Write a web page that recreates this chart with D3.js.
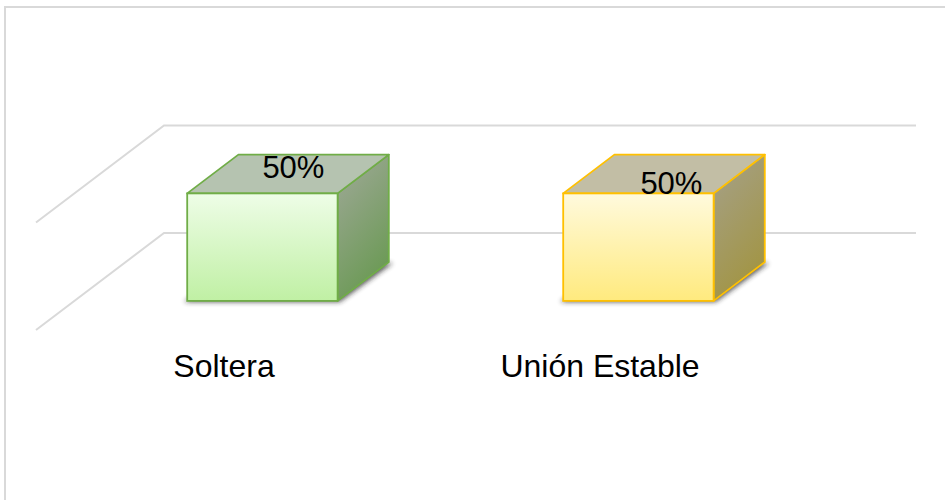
<!DOCTYPE html>
<html>
<head>
<meta charset="utf-8">
<script src="https://cdn.jsdelivr.net/npm/d3@7/dist/d3.min.js"></script>
<style>
  html, body { margin: 0; padding: 0; background: #fff; }
  svg { display: block; }
</style>
</head>
<body>
<svg id="chart" width="945" height="500"></svg>
<script>
// ---- data ----
const categories = ["Soltera", "Unión Estable"];
const values = [0.5, 0.5];
const dataLabels = ["50%", "50%"];
const gridTicks = [0, 0.5];

// ---- styles / layout ----
const frontColors = [["#EEFDE7", "#C0F0A4"], ["#FFFADD", "#FFEA7E"]];
const sideColors  = [["#A1A99A", "#6C9A56"], ["#A5A18B", "#A29545"]];
const topColors   = ["#B5C3B0", "#C2BEA5"];
const strokeColors = ["#70AD47", "#FFC000"];
const labelNudge = [[31, -15], [33, 1]];

const svg = d3.select("#chart");
const font = "'Liberation Sans', Arial, sans-serif";

// chart frame
svg.append("rect").attr("x", 5).attr("y", 7).attr("width", 980).attr("height", 540)
  .attr("fill", "#fff").attr("stroke", "#D9D9D9").attr("stroke-width", 2);

const depthX = 128, depthY = -97;
const x = d3.scaleBand().domain(categories).range([36, 788]).paddingInner(0.6).paddingOuter(0.3);
const y = d3.scaleLinear().domain([0, 0.5]).range([330, 222.5]);

// gridlines (side wall + back wall)
const grid = svg.append("g");
gridTicks.forEach(t => {
  const y0 = y(t);
  grid.append("path")
    .attr("d", `M${x.range()[0]},${y0} L${x.range()[0] + depthX},${y0 + depthY} L${x.range()[1] + depthX},${y0 + depthY}`)
    .attr("fill", "none").attr("stroke", "#D9D9D9").attr("stroke-width", 2);
});

const defs = svg.append("defs");
const blur = defs.append("filter").attr("id", "shadowBlur")
  .attr("x", "-20%").attr("y", "-100%").attr("width", "140%").attr("height", "300%");
blur.append("feGaussianBlur").attr("stdDeviation", 2.5);

categories.forEach((c, i) => {
  const fg = defs.append("linearGradient").attr("id", "front" + i)
    .attr("x1", 0).attr("y1", 0).attr("x2", 0).attr("y2", 1);
  fg.append("stop").attr("offset", "0%").attr("stop-color", frontColors[i][0]);
  fg.append("stop").attr("offset", "100%").attr("stop-color", frontColors[i][1]);
  const sg = defs.append("linearGradient").attr("id", "side" + i)
    .attr("x1", 0).attr("y1", 0).attr("x2", 0.4).attr("y2", 1);
  sg.append("stop").attr("offset", "0%").attr("stop-color", sideColors[i][0]);
  sg.append("stop").attr("offset", "100%").attr("stop-color", sideColors[i][1]);
});

const d0 = 0.3, d1 = 0.7; // bar depth fraction
const bars = svg.append("g");
categories.forEach((c, i) => {
  const x0 = x(c) + d0 * depthX;
  const x1 = x0 + x.bandwidth();
  const yb = y(0) + d0 * depthY;
  const yt = y(values[i]) + d0 * depthY;
  const ddx = (d1 - d0) * depthX, ddy = (d1 - d0) * depthY;
  const g = bars.append("g");
  // shadow
  g.append("path")
    .attr("d", `M${x0 - 3},${yb + 1} L${x1 + 2},${yb + 1} L${x1 + ddx + 4},${yb + ddy + 1} L${x0 + ddx},${yb + ddy + 1} Z`)
    .attr("fill", "#222").attr("opacity", 0.75).attr("filter", "url(#shadowBlur)");
  // right side
  g.append("path")
    .attr("d", `M${x1},${yt} L${x1 + ddx},${yt + ddy} L${x1 + ddx},${yb + ddy} L${x1},${yb} Z`)
    .attr("fill", `url(#side${i})`).attr("stroke", strokeColors[i]).attr("stroke-width", 1.8)
    .attr("stroke-linejoin", "round");
  // top
  g.append("path")
    .attr("d", `M${x0},${yt} L${x0 + ddx},${yt + ddy} L${x1 + ddx},${yt + ddy} L${x1},${yt} Z`)
    .attr("fill", topColors[i]).attr("stroke", strokeColors[i]).attr("stroke-width", 1.8)
    .attr("stroke-linejoin", "round");
  // front
  g.append("rect").attr("x", x0).attr("y", yt).attr("width", x1 - x0).attr("height", yb - yt)
    .attr("fill", `url(#front${i})`).attr("stroke", strokeColors[i]).attr("stroke-width", 1.8);
  // data label
  g.append("text")
    .attr("x", (x0 + x1) / 2 + labelNudge[i][0])
    .attr("y", yt + labelNudge[i][1])
    .attr("text-anchor", "middle")
    .attr("font-family", font).attr("font-size", 31).attr("fill", "#000")
    .text(dataLabels[i]);
});

// category labels
svg.append("g").selectAll("text").data(categories).join("text")
  .attr("x", d => x(d) + x.bandwidth() / 2)
  .attr("y", y(0) + 47)
  .attr("text-anchor", "middle")
  .attr("font-family", font).attr("font-size", 32).attr("fill", "#000")
  .text(d => d);
</script>
</body>
</html>
